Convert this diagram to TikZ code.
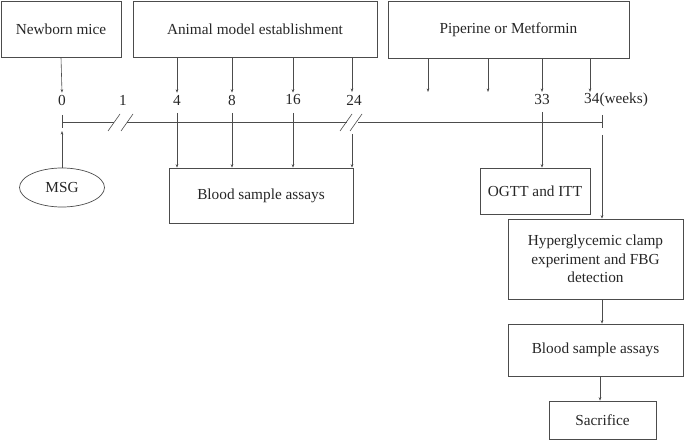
\documentclass[tikz,border=0pt]{standalone}
\usepackage{fontspec}
\setmainfont{Liberation Serif}
\usetikzlibrary{arrows.meta,shapes.geometric}
\begin{document}
\begin{tikzpicture}[x=1pt, y=-1pt,
        every node/.style={font=\fontsize{15.3}{18.5}\selectfont, text=black!85},
        box/.style={draw=black!70, line width=0.7pt, align=center, inner sep=0pt},
        wk/.style={inner sep=2pt},
        arr/.style={draw=black!70, line width=0.6pt, -{Stealth[length=3.5pt, width=2.6pt]}},
        axis/.style={draw=black!70, line width=0.6pt}]
    \useasboundingbox (0,0) rectangle (685,441);

    % top boxes
    \node[box, minimum width=120, minimum height=56] (newborn) at (61,29) {Newborn mice};
    \node[box, minimum width=244, minimum height=56] (animal) at (255,29) {Animal model establishment};
    \node[box, minimum width=241, minimum height=57] (piperine) at (508.5,29.5) {Piperine or Metformin};

    % week labels
    \foreach \w/\x in {0/62, 1/123, 4/177, 8/232, 16/293, 24/354, 33/542} {
        \node[wk] (lbl\w) at (\x,100) {\w};
    }
    \node[wk, anchor=west] (lbl34) at (582,100) {34(weeks)};

    % time line with breaks
    \draw[axis] (62,122) -- (114,122);
    \draw[axis] (127,122) -- (347,122);
    \draw[axis] (358,122) -- (602,122);
    \draw[axis] (62,115) -- (62,128);
    \draw[axis] (602,115) -- (602,128);
    \foreach \x in {108, 121, 340, 350} {
        \draw[axis] (\x,131) -- (\x+12,114);
    }

    % lower boxes
    \node[box, ellipse, minimum width=85, minimum height=39] (msg) at (62,187.5) {MSG};
    \node[box, minimum width=184, minimum height=55] (blood) at (261,195.5) {Blood sample assays};
    \node[box, minimum width=110, minimum height=46] (ogtt) at (535,191) {OGTT and ITT};
    \node[box, minimum width=175, minimum height=80] (hyper) at (595.5,259)
        {Hyperglycemic clamp\\experiment and FBG\\detection};
    \node[box, minimum width=175, minimum height=52] (bloodb) at (595.5,350) {Blood sample assays};
    \node[box, minimum width=107, minimum height=38] (sacrifice) at (602.5,420) {Sacrifice};

    % arrows from the top boxes
    \draw[arr] (newborn.south) -- (lbl0.north);
    \foreach \w in {4, 8, 16} {
        \draw[arr] (animal.south -| lbl\w) -- (lbl\w.north);
    }
    \coordinate (q24) at (352,92);
    \coordinate (p1) at (428,92);
    \coordinate (p2) at (488,92);
    \coordinate (p3) at (542,92);
    \coordinate (p4) at (590,92);
    \draw[arr] (animal.south -| q24) -- (q24);
    \foreach \p in {p1, p2, p3, p4} {
        \draw[arr] (piperine.south -| \p) -- (\p);
    }

    % arrows below the time line
    \coordinate (base) at (0,113);
    \foreach \w in {4, 8, 16} {
        \draw[arr] (lbl\w |- base) -- (lbl\w |- blood.north);
    }
    \coordinate (t24) at (352,134);
    \draw[arr] (t24) -- (t24 |- blood.north);
    \coordinate (t33) at (542,112);
    \draw[arr] (t33) -- (t33 |- ogtt.north);
    \coordinate (t34) at (602,135);
    \draw[arr] (t34) -- (t34 |- hyper.north);
    \coordinate (t0) at (62,131);
    \draw[arr] (msg.north) -- (t0);
    \coordinate (c1) at (602,0);
    \coordinate (c2) at (600,0);
    \draw[arr] (hyper.south -| c1) -- (bloodb.north -| c1);
    \draw[arr] (bloodb.south -| c2) -- (sacrifice.north -| c2);
\end{tikzpicture}
\end{document}
